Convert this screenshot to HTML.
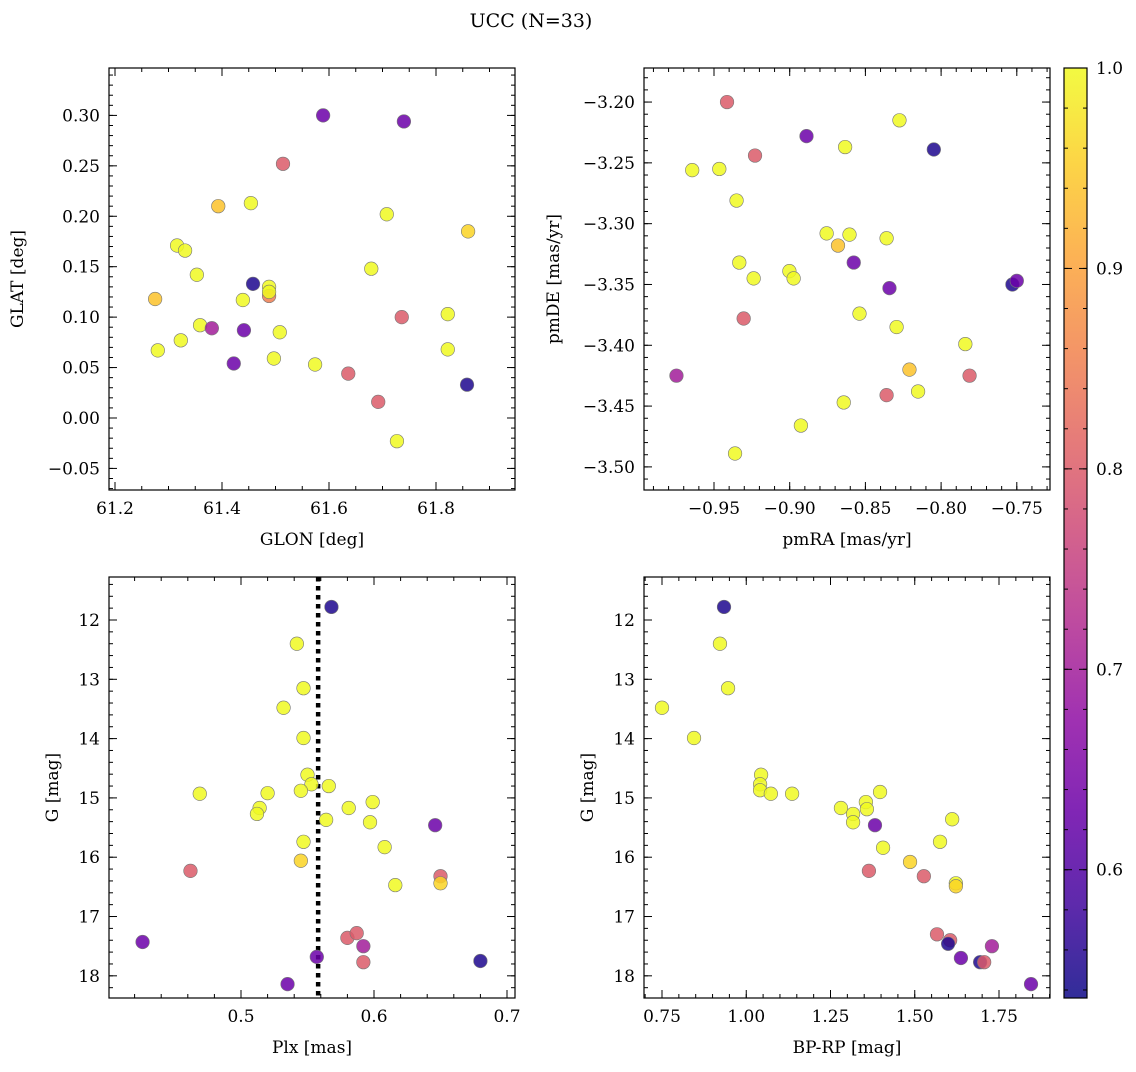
<!DOCTYPE html>
<html><head><meta charset="utf-8">
<style>
body{margin:0;background:#fff;}
svg text{font-family:"DejaVu Serif","Liberation Serif",serif;fill:#000;}
</style></head>
<body>
<svg id="fig" width="1136" height="1067" xmlns="http://www.w3.org/2000/svg">
<text x="531" y="27" font-size="19" text-anchor="middle">UCC (N=33)</text>
</svg>
<script>
// ---- data ----
const p1Glon=[61.589,61.740,61.514,61.393,61.454,61.708,61.316,61.331,61.860,61.353,61.679,61.458,61.275,61.439,61.488,61.488,61.736,61.822,61.359,61.381,61.441,61.508,61.323,61.280,61.822,61.497,61.422,61.574,61.636,61.858,61.692,61.727,61.488];
const p1Glat=[0.300,0.294,0.252,0.210,0.213,0.202,0.171,0.166,0.185,0.142,0.148,0.133,0.118,0.117,0.130,0.121,0.100,0.103,0.092,0.089,0.087,0.085,0.077,0.067,0.068,0.059,0.054,0.053,0.044,0.033,0.016,-0.023,0.125];
const p1Prob=[0.63,0.63,0.80,0.94,1.0,1.0,1.0,1.0,0.96,1.0,1.0,0.55,0.94,1.0,1.0,0.85,0.80,1.0,1.0,0.70,0.63,1.0,1.0,1.0,1.0,1.0,0.63,1.0,0.80,0.55,0.80,1.0,1.0];
const p2Pmra=[-0.9414,-0.8889,-0.8048,-0.8275,-0.9229,-0.9644,-0.9465,-0.8634,-0.9351,-0.8756,-0.8605,-0.8681,-0.8360,-0.9333,-0.8577,-0.9002,-0.8974,-0.9238,-0.8341,-0.7529,-0.7500,-0.8539,-0.9304,-0.8294,-0.7840,-0.8209,-0.9748,-0.7812,-0.8152,-0.8360,-0.8643,-0.8926,-0.9361];
const p2Pmde=[-3.200,-3.228,-3.239,-3.215,-3.244,-3.256,-3.255,-3.237,-3.281,-3.308,-3.309,-3.318,-3.312,-3.332,-3.332,-3.339,-3.345,-3.345,-3.353,-3.350,-3.347,-3.374,-3.378,-3.385,-3.399,-3.420,-3.425,-3.425,-3.438,-3.441,-3.447,-3.466,-3.489];
const p2Prob=[0.80,0.63,0.55,1.0,0.80,1.0,1.0,1.0,1.0,1.0,1.0,0.94,1.0,1.0,0.63,1.0,1.0,1.0,0.63,0.55,0.63,1.0,0.80,1.0,1.0,0.94,0.70,0.80,1.0,0.80,1.0,1.0,1.0];
const p3Plx=[0.568,0.542,0.547,0.532,0.547,0.550,0.553,0.566,0.520,0.545,0.469,0.599,0.514,0.581,0.512,0.564,0.597,0.646,0.547,0.608,0.545,0.462,0.650,0.650,0.616,0.426,0.580,0.587,0.592,0.557,0.592,0.680,0.535];
const p3G=[11.78,12.40,13.15,13.48,13.99,14.61,14.77,14.80,14.92,14.88,14.93,15.07,15.17,15.17,15.27,15.37,15.41,15.46,15.74,15.83,16.06,16.23,16.32,16.44,16.47,17.43,17.36,17.28,17.50,17.68,17.77,17.75,18.14];
const p3Prob=[0.55,1.0,1.0,1.0,1.0,1.0,1.0,1.0,1.0,1.0,1.0,1.0,1.0,1.0,1.0,1.0,1.0,0.63,1.0,1.0,0.96,0.80,0.80,0.96,1.0,0.63,0.80,0.80,0.70,0.63,0.80,0.55,0.63];
const p4Bprp=[0.934,0.922,0.946,0.750,0.845,1.044,1.041,1.041,1.073,1.136,1.397,1.355,1.281,1.358,1.317,1.317,1.611,1.382,1.575,1.406,1.486,1.364,1.527,1.622,1.622,1.566,1.605,1.599,1.729,1.637,1.694,1.706,1.845];
const p4G=[11.78,12.40,13.15,13.48,13.99,14.61,14.77,14.87,14.93,14.93,14.90,15.07,15.17,15.19,15.27,15.41,15.36,15.46,15.74,15.84,16.08,16.23,16.32,16.44,16.49,17.30,17.40,17.46,17.50,17.70,17.77,17.77,18.14];
const p4Prob=[0.55,1.0,1.0,1.0,1.0,1.0,1.0,1.0,1.0,1.0,1.0,1.0,1.0,1.0,1.0,1.0,1.0,0.63,1.0,1.0,0.96,0.80,0.80,1.0,0.96,0.80,0.80,0.55,0.70,0.63,0.55,0.80,0.63];
const plxLine=[0.558];
const cbTicks=[0.6,0.7,0.8,0.9,1.0];
const cbMin=0.536, cbMax=1.0;
// ---- helpers ----
const NS="http://www.w3.org/2000/svg";
const svg=document.getElementById('fig');
function mk(tag,attrs,parent){const e=document.createElementNS(NS,tag);for(const k in attrs)e.setAttribute(k,attrs[k]);(parent||svg).appendChild(e);return e;}
const stops=[[13,8,135],[65,4,157],[106,0,168],[143,13,164],[177,42,144],[204,71,120],[225,100,98],[242,132,75],[252,166,54],[252,206,37],[240,249,33]];
function plasma(t){t=Math.max(0,Math.min(1,t));const f=t*10,i=Math.min(9,Math.floor(f)),r=f-i;const a=stops[i],b=stops[i+1];return 'rgb('+a.map((v,k)=>Math.round(v+(b[k]-v)*r)).join(',')+')';}
function cmap(v){return plasma((v-cbMin)/(cbMax-cbMin));}
function fmt(v,d){let s=v.toFixed(d);return s.replace('-','\u2212');}
function panel(o){
  const g=mk('g',{});
  
  
  const sx=v=>o.x0+(v-o.xmin)/(o.xmax-o.xmin)*(o.x1-o.x0);
  const sy=v=>o.inv? o.y0+(v-o.ymin)/(o.ymax-o.ymin)*(o.y1-o.y0) : o.y1-(v-o.ymin)/(o.ymax-o.ymin)*(o.y1-o.y0);
  function ticks(min,max,step,isX,len,labels,dec){
    const s0=Math.ceil(min/step-1e-6);
    for(let k=s0;k*step<=max+1e-9;k++){const v=k*step;
      if(isX){const x=sx(v);mk('line',{x1:x,x2:x,y1:o.y1,y2:o.y1-len,stroke:'#000','stroke-width':1},g);mk('line',{x1:x,x2:x,y1:o.y0,y2:o.y0+len,stroke:'#000','stroke-width':1},g);
        if(labels){const t=mk('text',{x:x,y:o.y1+24,'font-size':17,'text-anchor':'middle'},g);t.textContent=fmt(v,dec);}}
      else{const y=sy(v);mk('line',{y1:y,y2:y,x1:o.x0,x2:o.x0+len,stroke:'#000','stroke-width':1},g);mk('line',{y1:y,y2:y,x1:o.x1,x2:o.x1-len,stroke:'#000','stroke-width':1},g);
        if(labels){const t=mk('text',{x:o.x0-9,y:y+6,'font-size':17,'text-anchor':'end'},g);t.textContent=fmt(v,dec);}}
    }}
  ticks(o.xmin,o.xmax,o.xmaj/o.xsub,true,4,false);
  ticks(o.xmin,o.xmax,o.xmaj,true,8,true,o.xdec);
  ticks(Math.min(o.ymin,o.ymax),Math.max(o.ymin,o.ymax),o.ymaj/o.ysub,false,4,false);
  ticks(Math.min(o.ymin,o.ymax),Math.max(o.ymin,o.ymax),o.ymaj,false,8,true,o.ydec);
  if(o.vline){const x=sx(o.vline[0]);const l=mk('line',{x1:x,x2:x,y1:o.y0,y2:o.y1,stroke:'#000','stroke-width':4.5,'stroke-dasharray':'4.5,4.5'},g);}
  for(let i=0;i<o.xs.length;i++){
    const c=mk('circle',{cx:sx(o.xs[i]),cy:sy(o.ys[i]),r:6.8,fill:cmap(o.cs[i]),'fill-opacity':0.85,stroke:'#777','stroke-width':0.6},g);
    
    
  }
  const f=mk('rect',{x:o.x0,y:o.y0,width:o.x1-o.x0,height:o.y1-o.y0,fill:'none',stroke:'#000','stroke-width':1.2},g);
  
  const xl=mk('text',{x:(o.x0+o.x1)/2,y:o.y1+55,'font-size':17,'text-anchor':'middle'},g);xl.textContent=o.xlabel;
  
  const yc=(o.y0+o.y1)/2;const yl=mk('text',{x:o.ylx,y:yc,'font-size':17,'text-anchor':'middle',transform:'rotate(-90 '+o.ylx+' '+yc+')'},g);yl.textContent=o.ylabel;
  
}
panel({name:'glon-glat-panel',x0:109,x1:515,y0:68,y1:490,xmin:61.2+(109-115)/535,xmax:61.2+(515-115)/535,ymin:-0.0714,ymax:0.347,xmaj:0.2,xsub:4,ymaj:0.05,ysub:5,xdec:1,ydec:2,xs:p1Glon,ys:p1Glat,cs:p1Prob,xlabel:'GLON [deg]',ylabel:'GLAT [deg]',ylx:23});
panel({name:'pm-panel',x0:644,x1:1050,y0:68,y1:490,xmin:-0.95+(644-714)/1514,xmax:-0.95+(1050-714)/1514,ymin:-3.519,ymax:-3.172,xmaj:0.05,xsub:5,ymaj:0.05,ysub:5,xdec:2,ydec:2,xs:p2Pmra,ys:p2Pmde,cs:p2Prob,xlabel:'pmRA [mas/yr]',ylabel:'pmDE [mas/yr]',ylx:559});
panel({name:'plx-g-panel',x0:109,x1:515,y0:577,y1:998,inv:true,xmin:0.5+(109-241)/1330,xmax:0.5+(515-241)/1330,ymin:11.275,ymax:18.374,xmaj:0.1,xsub:5,ymaj:1,ysub:5,xdec:1,ydec:0,xs:p3Plx,ys:p3G,cs:p3Prob,vline:plxLine,xlabel:'Plx [mas]',ylabel:'G [mag]',ylx:58});
panel({name:'cmd-panel',x0:644,x1:1050,y0:577,y1:998,inv:true,xmin:0.75+(644-662)/337,xmax:0.75+(1050-662)/337,ymin:11.275,ymax:18.374,xmaj:0.25,xsub:5,ymaj:1,ysub:5,xdec:2,ydec:0,xs:p4Bprp,ys:p4G,cs:p4Prob,xlabel:'BP-RP [mag]',ylabel:'G [mag]',ylx:593});
// colorbar
const defs=mk('defs',{});const lg=mk('linearGradient',{id:'cbg',x1:0,y1:1,x2:0,y2:0},defs);
for(let i=0;i<=20;i++){mk('stop',{offset:i/20,'stop-color':plasma(i/20),'stop-opacity':0.85},lg);}
const cb0=1064,cb1=1087,cby0=68,cby1=998;
const cb=mk('rect',{x:cb0,y:cby0,width:cb1-cb0,height:cby1-cby0,fill:'url(#cbg)',stroke:'#000','stroke-width':1.2});

const cy=v=>cby1-(v-cbMin)/(cbMax-cbMin)*(cby1-cby0);
for(let v=0.54;v<=1.0001;v+=0.02){const y=cy(v);mk('line',{x1:cb1,x2:cb1-4,y1:y,y2:y,stroke:'#000'});mk('line',{x1:cb0,x2:cb0+4,y1:y,y2:y,stroke:'#000'});}
cbTicks.forEach(v=>{const y=cy(v);mk('line',{x1:cb1,x2:cb1-8,y1:y,y2:y,stroke:'#000'});mk('line',{x1:cb0,x2:cb0+8,y1:y,y2:y,stroke:'#000'});
  const t=mk('text',{x:cb1+9,y:y+6,'font-size':17});t.textContent=v.toFixed(1);
  });
</script>
</body></html>
